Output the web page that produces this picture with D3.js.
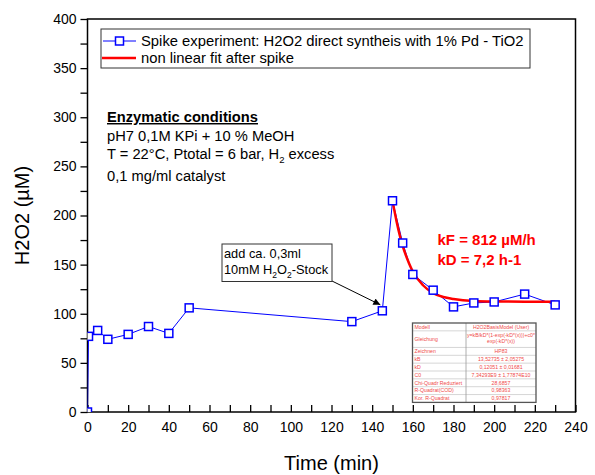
<!DOCTYPE html>
<html>
<head>
<meta charset="utf-8">
<script src="https://cdn.jsdelivr.net/npm/d3@7"></script>
<style>
  body { margin: 0; background: #fff; }
  svg { font-family: "Liberation Sans", Arial, sans-serif; }
</style>
</head>
<body>
<div id="chart"></div>
<script>
const times = [0, 0.5, 5, 10, 20, 30, 40, 50, 130, 145, 150, 155, 160, 170, 180, 190, 200, 215, 230];
const h2o2 = [0, 77, 83, 74, 79, 87, 80, 106, 92, 103, 215, 172, 140, 124, 107, 111, 112, 120, 109];

// Fit-Kurve nach dem Spike
const fitTimes = [150, 152, 155, 158, 160, 165, 170, 175, 180, 190, 200, 215, 230];
const fitValues = [215, 194, 169, 152, 143, 129, 121, 117, 115, 113, 112.5, 112.3, 112.2];

const xTicks = [0, 20, 40, 60, 80, 100, 120, 140, 160, 180, 200, 220, 240];
const yTicks = [0, 50, 100, 150, 200, 250, 300, 350, 400];

const legendLabels = ['Spike experiment: H2O2 direct syntheis with 1% Pd - TiO2', 'non linear fit after spike'];

const tableLabels = ['Modell', 'Gleichung', 'Zeichnen', 'kB', 'kD', 'C0', 'Chi-Quadr Reduziert', 'R-Quadrat(COD)', 'Kor. R-Quadrat'];
const tableValues = [['H2O2BasisModel (User)'], ['y=kB/kD*(1-exp(-kD*(x)))+c0*', 'exp(-kD*(x))'], ['HP83'],
  ['13,52735 ± 2,05275'], ['0,12051 ± 0,01681'], ['7,34293E9 ± 1,77874E10'], ['28,6857'], ['0,98363'], ['0,97817']];

const width = 595, height = 475;
const svg = d3.select('#chart').append('svg')
    .attr('width', width)
    .attr('height', height);

const x = d3.scaleLinear().domain([0, 240]).range([87.5, 575.5]);
const y = d3.scaleLinear().domain([0, 400]).range([412, 19]);

// Clip für Daten
svg.append('clipPath').attr('id', 'plotclip')
  .append('rect')
    .attr('x', x(0)).attr('y', y(400))
    .attr('width', x(240) - x(0)).attr('height', y(0) - y(400));

// Achsen
const yAxis = d3.axisLeft(y)
    .tickValues(d3.range(0, 401, 25))
    .tickSize(7)
    .tickSizeOuter(0)
    .tickPadding(4)
    .tickFormat(d => yTicks.includes(d) ? d : '');
svg.append('g')
    .attr('transform', `translate(${x(0)},0)`)
    .call(yAxis)
    .call(g => g.select('.domain').remove())
    .call(g => g.selectAll('line').attr('stroke', '#000').attr('stroke-width', 1.3))
    .call(g => g.selectAll('text').attr('font-size', 14).attr('fill', '#000').attr('font-family', '"Liberation Sans", Arial, sans-serif'));

const xAxis = d3.axisBottom(x)
    .tickValues(d3.range(0, 241, 10))
    .tickSize(-7)
    .tickSizeOuter(0)
    .tickPadding(10)
    .tickFormat(d => xTicks.includes(d) ? d : '');
svg.append('g')
    .attr('transform', `translate(0,${y(0)})`)
    .call(xAxis)
    .call(g => g.select('.domain').remove())
    .call(g => g.selectAll('line').attr('stroke', '#000').attr('stroke-width', 1.3))
    .call(g => g.selectAll('text').attr('font-size', 14).attr('fill', '#000').attr('font-family', '"Liberation Sans", Arial, sans-serif'));

// Rahmen
svg.append('rect')
    .attr('x', x(0)).attr('y', y(400))
    .attr('width', x(240) - x(0)).attr('height', y(0) - y(400))
    .attr('fill', 'none')
    .attr('stroke', '#000')
    .attr('stroke-width', 1.5);

// Achsentitel
svg.append('text')
    .attr('x', (x(0) + x(240)) / 2)
    .attr('y', 470)
    .attr('text-anchor', 'middle')
    .attr('font-size', 20)
    .text('Time (min)');

svg.append('text')
    .attr('transform', `translate(29,${(y(0) + y(400)) / 2}) rotate(-90)`)
    .attr('text-anchor', 'middle')
    .attr('font-size', 20)
    .text('H2O2 (µM)');

const plot = svg.append('g').attr('clip-path', 'url(#plotclip)');

// Messreihe
const pts = times.map((t, i) => ({ t: t, v: h2o2[i] }));
plot.append('path')
    .datum(pts)
    .attr('d', d3.line().x(d => x(d.t)).y(d => y(d.v)))
    .attr('fill', 'none')
    .attr('stroke', '#0000ff')
    .attr('stroke-width', 1);

// Fit
const fit = fitTimes.map((t, i) => ({ t: t, v: fitValues[i] }));
plot.append('path')
    .datum(fit)
    .attr('d', d3.line().x(d => x(d.t)).y(d => y(d.v)).curve(d3.curveMonotoneX))
    .attr('fill', 'none')
    .attr('stroke', '#ff0000')
    .attr('stroke-width', 2.5);

plot.selectAll('.pt')
    .data(pts)
    .enter().append('rect')
    .attr('class', 'pt')
    .attr('x', d => x(d.t) - 4)
    .attr('y', d => y(d.v) - 4)
    .attr('width', 8).attr('height', 8)
    .attr('fill', '#fff')
    .attr('stroke', '#0000ff')
    .attr('stroke-width', 1.5);

// Legende
const leg = svg.append('g');
leg.append('rect')
    .attr('x', 101).attr('y', 29)
    .attr('width', 429).attr('height', 39)
    .attr('fill', '#fff')
    .attr('stroke', '#333')
    .attr('stroke-width', 1);
leg.append('line')
    .attr('x1', 103).attr('x2', 136).attr('y1', 41).attr('y2', 41)
    .attr('stroke', '#0000ff').attr('stroke-width', 1);
leg.append('rect')
    .attr('x', 115.5).attr('y', 37).attr('width', 8).attr('height', 8)
    .attr('fill', '#fff').attr('stroke', '#0000ff').attr('stroke-width', 1.5);
leg.append('line')
    .attr('x1', 102).attr('x2', 136).attr('y1', 58).attr('y2', 58)
    .attr('stroke', '#ff0000').attr('stroke-width', 2.5);
leg.selectAll('.lt')
    .data(legendLabels)
    .enter().append('text')
    .attr('x', 141)
    .attr('y', (d, i) => 46 + i * 16.5)
    .attr('font-size', 14.8)
    .text(d => d);

// Bedingungen
const cond = svg.append('g').attr('font-size', 14.7);
cond.append('text')
    .attr('x', 107).attr('y', 122)
    .attr('font-weight', 'bold')
    .attr('text-decoration', 'underline')
    .text('Enzymatic conditions ');
cond.append('text').attr('x', 107).attr('y', 140.5).text('pH7 0,1M KPi + 10 % MeOH');
const l3 = cond.append('text').attr('x', 107).attr('y', 158.5);
l3.append('tspan').text('T = 22°C, Ptotal = 6 bar, H');
l3.append('tspan').attr('dy', 4).attr('font-size', 9.5).text('2');
l3.append('tspan').attr('dy', -4).text(' excess');
cond.append('text').attr('x', 107).attr('y', 181).text('0,1 mg/ml catalyst');

// Annotation
svg.append('defs').append('marker')
    .attr('id', 'arrow')
    .attr('viewBox', '0 0 10 10')
    .attr('refX', 10).attr('refY', 5)
    .attr('markerWidth', 9).attr('markerHeight', 7)
    .attr('markerUnits', 'userSpaceOnUse')
    .attr('orient', 'auto')
  .append('path')
    .attr('d', 'M0,0 L10,5 L0,10 Z')
    .attr('fill', '#000');
svg.append('line')
    .attr('x1', 332).attr('y1', 281)
    .attr('x2', x(145) - 2).attr('y2', y(103) - 6)
    .attr('stroke', '#000').attr('stroke-width', 1)
    .attr('marker-end', 'url(#arrow)');
svg.append('rect')
    .attr('x', 222).attr('y', 244)
    .attr('width', 110).attr('height', 37.5)
    .attr('fill', '#fff').attr('stroke', '#333').attr('stroke-width', 1);
const ann = svg.append('g').attr('font-size', 12.8);
ann.append('text').attr('x', 224).attr('y', 258).text('add ca. 0,3ml');
const a2 = ann.append('text').attr('x', 224).attr('y', 274);
a2.append('tspan').text('10mM H');
a2.append('tspan').attr('dy', 3.5).attr('font-size', 8.5).text('2');
a2.append('tspan').attr('dy', -3.5).text('O');
a2.append('tspan').attr('dy', 3.5).attr('font-size', 8.5).text('2');
a2.append('tspan').attr('dy', -3.5).text('-Stock');

// Kinetik
const kin = svg.append('g')
    .attr('font-size', 15)
    .attr('font-weight', 'bold')
    .attr('fill', '#ff0000');
kin.append('text').attr('x', 437.5).attr('y', 245).text('kF = 812 µM/h');
kin.append('text').attr('x', 437.5).attr('y', 264.5).text('kD = 7,2 h-1');

// Ergebnistabelle
const tx0 = 412.5, tx1 = 466, tx2 = 536, ty0 = 323;
const rowH = tableLabels.map(l => l === 'Gleichung' ? 16.6 : 7.85);
const rowY = [ty0];
rowH.forEach((h, i) => rowY.push(rowY[i] + h));
const tab = svg.append('g');
tab.append('rect')
    .attr('x', tx0).attr('y', ty0)
    .attr('width', tx2 - tx0).attr('height', rowY[rowY.length - 1] - ty0)
    .attr('fill', '#fff');
tab.selectAll('.hl')
    .data(rowY.slice(1, -1))
    .enter().append('line')
    .attr('x1', tx0).attr('x2', tx2)
    .attr('y1', d => d).attr('y2', d => d)
    .attr('stroke', '#bbb').attr('stroke-width', 0.6);
tab.append('line')
    .attr('x1', tx1).attr('x2', tx1)
    .attr('y1', ty0).attr('y2', rowY[rowY.length - 1])
    .attr('stroke', '#999').attr('stroke-width', 0.8);
tab.selectAll('.tl')
    .data(tableLabels)
    .enter().append('text')
    .attr('x', tx0 + 2)
    .attr('y', (d, i) => rowY[i] + rowH[i] / 2 + 1.8)
    .attr('font-size', 5.2)
    .attr('fill', '#f04a4a')
    .text(d => d);
tableValues.forEach((vals, i) => {
  vals.forEach((v, j) => {
    tab.append('text')
      .attr('x', (tx1 + tx2) / 2)
      .attr('y', rowY[i] + (vals.length > 1 ? 6 + j * 6.5 : rowH[i] / 2 + 1.8))
      .attr('text-anchor', 'middle')
      .attr('font-size', 5.2)
      .attr('fill', '#f04a4a')
      .text(v);
  });
});
tab.append('rect')
    .attr('x', tx0).attr('y', ty0)
    .attr('width', tx2 - tx0).attr('height', rowY[rowY.length - 1] - ty0)
    .attr('fill', 'none')
    .attr('stroke', '#555').attr('stroke-width', 1.3);
</script>
</body>
</html>
